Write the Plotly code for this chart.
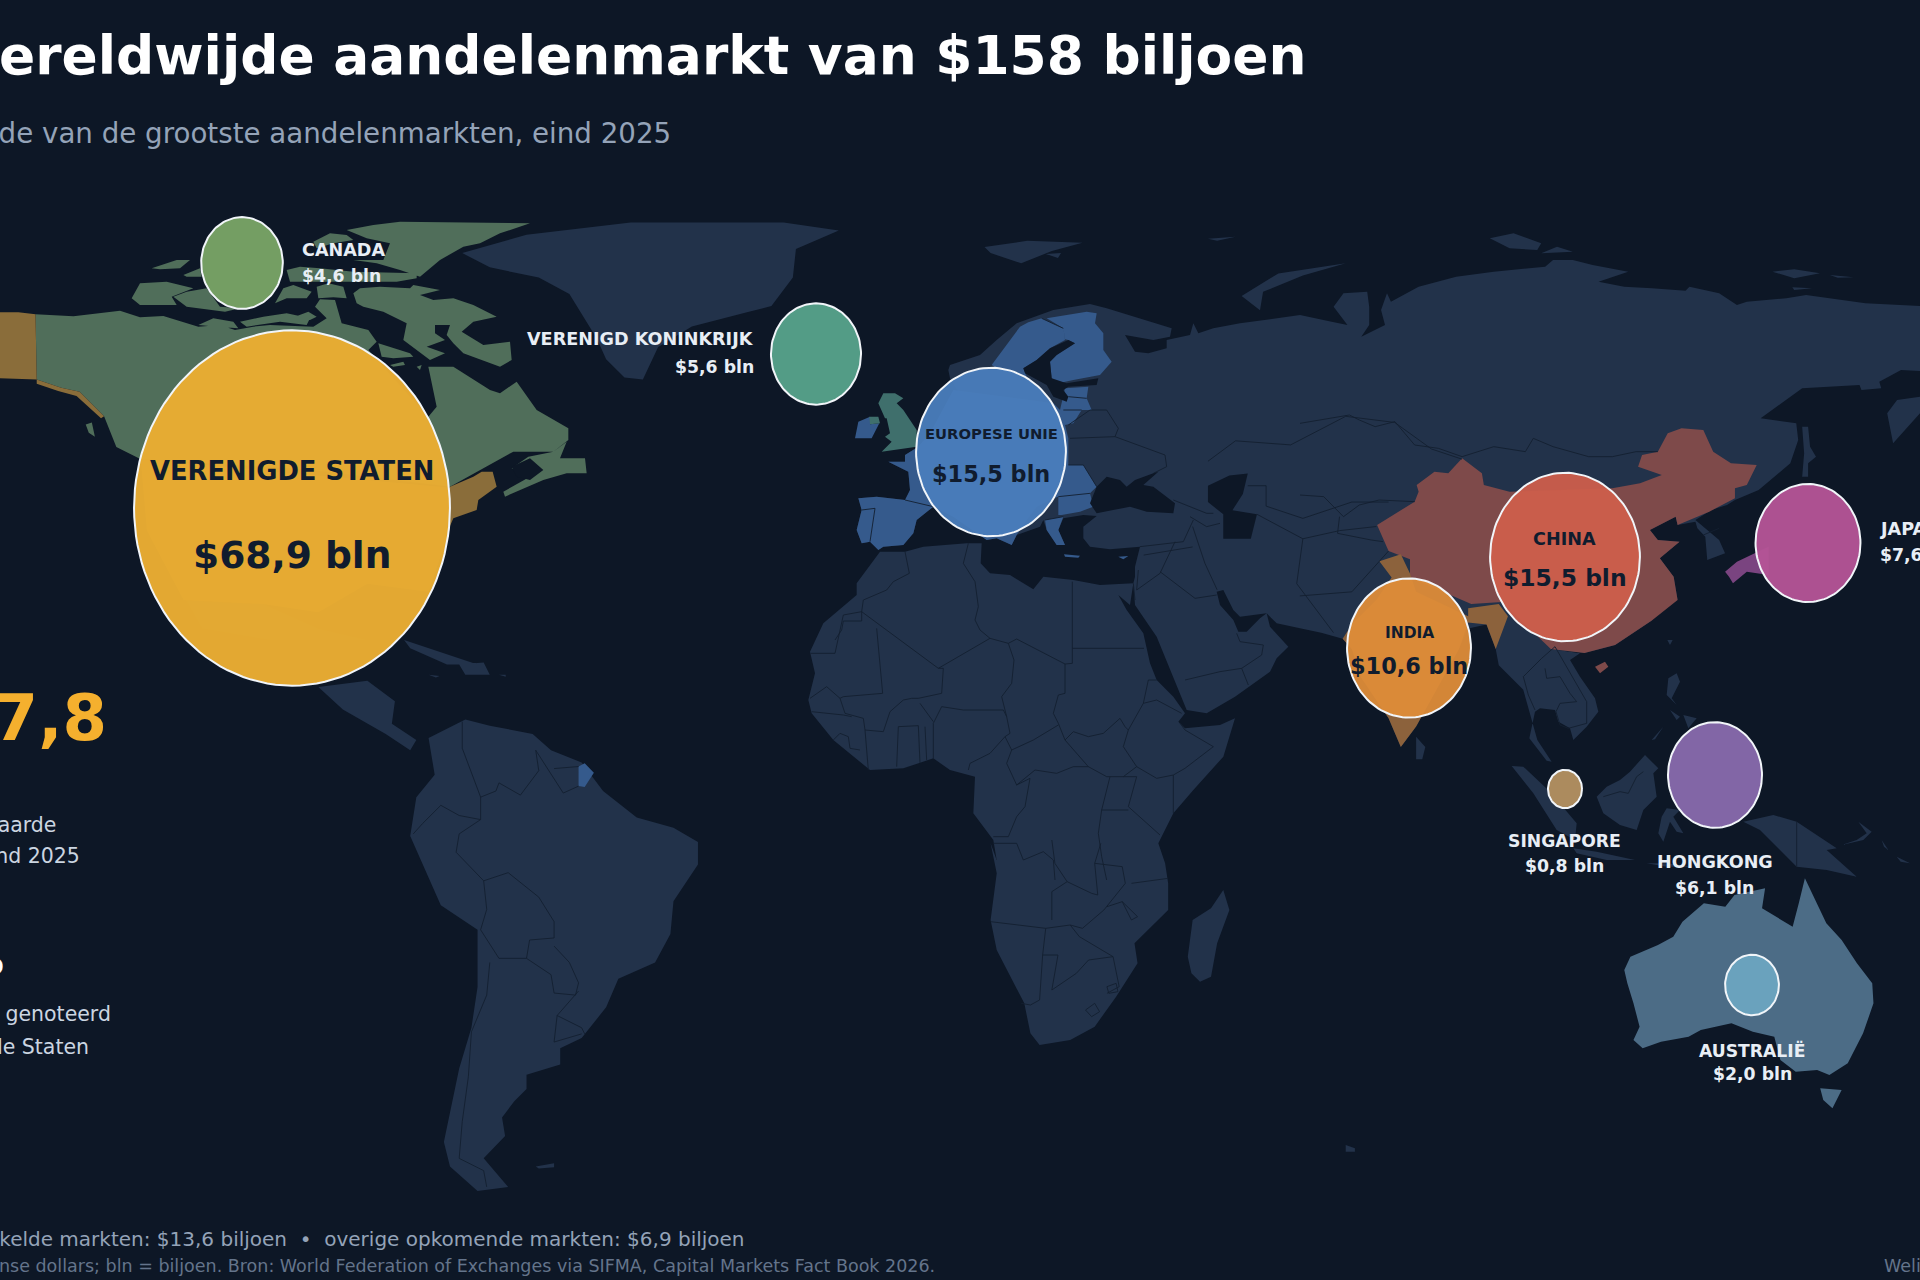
import numpy as np
import plotly.graph_objects as go

# ------------------------------------------------------------------ data
MARKETS = ["VERENIGDE STATEN", "EUROPESE UNIE", "CHINA", "INDIA", "JAPAN", "HONGKONG",
           "VERENIGD KONINKRIJK", "CANADA", "AUSTRALIË", "SINGAPORE"]
VALUES = [68.9, 15.5, 15.5, 10.6, 7.6, 6.1, 5.6, 4.6, 2.0, 0.8]
COLORS = ["rgba(232,172,50,0.975)", "rgba(74,125,188,0.95)", "rgba(206,94,75,0.95)",
          "rgba(222,140,56,0.95)", "rgba(180,84,150,0.96)", "rgba(134,105,170,0.97)",
          "rgba(86,162,138,0.96)", "rgba(122,165,102,0.95)", "rgba(108,165,192,0.95)",
          "rgba(172,139,94,1)"]
CENTER_X = [292, 991, 1565, 1409, 1808, 1715, 816, 242, 1752, 1565]
CENTER_Y = [508, 452, 557, 648, 543, 775, 354, 263, 985, 789]

BG = "#0D1726"
LAND = "#22324A"
BORDER = "#131F30"
K = 1920 / 1568
RX_PER_SQRT = 19.03
RY_PER_SQRT = 21.4


def crop(x0, y0, w, h, W, H):
    return lambda pts: [(x0 + a * w / W, y0 + b * h / H) for a, b in pts]


Z1 = crop(0, 0, 960, 640, 1568, 1568)
Z2 = crop(960, 200, 960, 640, 1568, 1568)
Z3 = crop(0, 640, 960, 640, 1568, 1568)
Z4 = crop(960, 840, 960, 440, 1568, 1320)
ZR = crop(1300, 200, 620, 400, 1568, 1200)
ZS = crop(1480, 640, 440, 300, 1320, 900)
ZE = crop(820, 290, 420, 300, 1260, 900)
ZA = crop(790, 540, 510, 340, 1530, 1020)
ZC = crop(120, 210, 480, 320, 1440, 960)

# ------------------------------------------------------------------ map outlines
EURASIA = (
    ZE([(385, 240), (390, 265), (430, 330), (330, 430), (295, 470), (255, 495), (255, 515), (205, 515), (265, 545),
        (270, 600), (255, 630), (170, 620), (115, 625), (125, 660), (110, 720), (125, 760), (150, 755), (175, 780),
        (190, 770), (250, 765), (280, 730), (290, 690), (340, 650), (400, 680), (500, 750), (530, 745), (575, 765),
        (590, 735), (660, 710), (670, 690), (680, 720), (710, 765), (735, 765), (715, 720), (730, 685), (790, 675),
        (830, 678), (790, 710), (790, 745), (810, 770), (870, 778), (960, 770), (945, 830), (945, 860)])
    + ZA([(1030, 130), (1035, 195), (1100, 290), (1120, 340), (1190, 510), (1250, 520), (1335, 470), (1440, 395),
          (1460, 355), (1495, 320), (1440, 260), (1430, 220), (1410, 235), (1370, 275), (1345, 275), (1330, 240),
          (1290, 195), (1280, 155), (1300, 150), (1330, 210), (1350, 230), (1430, 220), (1460, 250), (1530, 265)])
    + Z2([(590, 1060), (625, 1075), (640, 1100), (655, 1170), (700, 1270), (720, 1340), (745, 1290), (815, 1100),
          (830, 1050), (860, 1040), (875, 1100), (880, 1140), (920, 1200)])
    + ZS([(172, 300), (215, 365), (200, 362), (160, 310), (148, 295), (165, 215), (180, 205), (225, 210), (235, 245),
          (270, 265), (280, 300), (320, 260), (355, 215), (345, 175), (300, 110), (270, 60), (300, 40)])
    + Z2([(965, 1100), (1020, 1110), (1070, 1090), (1130, 1030), (1160, 960)])
    + ZR([(955, 1200), (945, 1130), (910, 1075), (960, 1025), (905, 1020), (885, 990), (950, 950), (955, 975),
          (1000, 965), (1005, 985), (1025, 1010), (1030, 1080), (1075, 1060), (1060, 1020), (1000, 960), (1040, 930),
          (1080, 915), (1100, 900), (1160, 870), (1240, 790), (1260, 720), (1255, 670), (1165, 655), (1270, 565),
          (1415, 555), (1420, 570), (1470, 565), (1465, 545), (1520, 510), (1600, 515), (1600, 320), (1430, 310),
          (1280, 285), (1230, 295), (1130, 305), (1105, 315), (1060, 280), (985, 260), (975, 272), (890, 265),
          (820, 260), (755, 245), (830, 215), (740, 195), (690, 180), (640, 180), (620, 200), (490, 215), (395, 230),
          (300, 260), (230, 305), (220, 280), (205, 330), (215, 375), (155, 410), (175, 375), (175, 320), (170, 275),
          (110, 280), (85, 320), (120, 375), (80, 365), (0, 345)])
    + ZE([(1260, 100), (1180, 115), (1135, 130), (1120, 100), (1110, 135), (1040, 150), (1040, 175), (985, 190),
          (945, 185), (915, 135), (1000, 150), (1050, 140), (1055, 115), (960, 85), (860, 55), (810, 42), (700, 60),
          (590, 100), (530, 150), (480, 195), (390, 225)])
)
AFRICA = (
    ZA([(270, 35), (345, 35), (400, 20), (530, 10), (575, 10), (572, 70), (600, 100), (660, 105), (730, 148), (760, 110),
        (850, 120), (930, 135), (1030, 130), (1020, 195), (985, 165), (1010, 210), (1060, 280), (1080, 370), (1100, 420),
        (1150, 470), (1185, 520), (1165, 545), (1185, 565), (1290, 555), (1335, 535), (1300, 650), (1210, 750),
        (1150, 820), (1105, 910), (1120, 960)])
    + Z4([(335, 70), (340, 130), (340, 210), (285, 310), (290, 370), (255, 470), (220, 560), (180, 600), (130, 615),
          (115, 580), (105, 490), (60, 330), (50, 240), (60, 100), (50, 10)])
    + ZA([(620, 960), (610, 900), (550, 820), (555, 710), (480, 690), (430, 655), (340, 685), (240, 690), (130, 600),
          (65, 520), (55, 480), (75, 400), (60, 335), (100, 250), (200, 165), (200, 130)])
)
SOUTH_AMERICA = Z3([(700, 240), (760, 195), (800, 210), (870, 230), (900, 270), (950, 300), (985, 370), (1040, 435),
                    (1100, 460), (1140, 495), (1140, 550), (1100, 640), (1095, 720), (1070, 790), (1010, 830), (990, 900),
                    (950, 975), (915, 1000), (915, 1040), (860, 1065), (860, 1100), (840, 1130), (820, 1170), (825, 1215),
                    (790, 1270), (830, 1340), (780, 1350), (735, 1290), (725, 1230), (750, 1050), (770, 950), (780, 850),
                    (780, 710), (720, 650), (670, 480), (680, 385), (710, 330)])
GREENLAND = Z1([(755, 620), (860, 575), (1030, 545), (1280, 545), (1370, 565), (1300, 610), (1295, 680), (1260, 750),
                (1220, 765), (1130, 800), (1075, 850), (1050, 930), (1020, 925), (990, 880), (975, 830), (950, 770),
                (930, 720), (880, 680), (800, 655)])
OTHER_LAND = [
    GREENLAND, EURASIA, AFRICA, SOUTH_AMERICA,
    Z1([(240, 1300), (300, 1470), (430, 1480), (520, 1540), (600, 1568), (560, 1568), (440, 1568), (330, 1540)]),
    Z3([(520, 115), (600, 100), (645, 150), (640, 205), (680, 245), (670, 270), (630, 230), (560, 170), (480, 60)]),
    Z3([(660, 0), (720, 30), (780, 60), (730, 60), (670, 20)]),
    Z3([(750, 60), (790, 55), (800, 85), (760, 85)]),
    Z3([(700, 85), (718, 88), (712, 92)]),
    Z3([(815, 85), (826, 85), (826, 90)]),
    Z3([(875, 1290), (905, 1282), (905, 1292), (880, 1295)]),
    Z4([(430, 150), (440, 210), (420, 310), (410, 410), (392, 425), (378, 400), (372, 350), (380, 240), (410, 205)]),
    Z4([(630, 915), (645, 925), (645, 935), (630, 935)]),
    Z2([(745, 1315), (760, 1340), (755, 1370), (745, 1370)]),
    Z2([(40, 115), (110, 100), (200, 105), (150, 125), (100, 155), (50, 130)]),
    Z2([(140, 132), (165, 130), (160, 142)]),
    Z2([(405, 95), (450, 90), (420, 100)]),
    Z2([(460, 235), (520, 180), (630, 155), (560, 185), (495, 225), (490, 270)]),
    ZR([(480, 115), (540, 100), (610, 130), (600, 150), (530, 145)]),
    ZR([(610, 160), (650, 140), (690, 155)]),
    ZR([(1195, 215), (1250, 208), (1315, 220), (1250, 235)]),
    ZR([(1340, 225), (1400, 232), (1360, 233)]),
    ZR([(1245, 262), (1295, 265), (1250, 270)]),
    ZR([(1270, 680), (1285, 680), (1290, 740), (1305, 770), (1285, 790), (1285, 830), (1270, 830), (1275, 760)]),
    ZR([(1568, 590), (1510, 600), (1485, 640), (1500, 730), (1530, 690), (1568, 640)]),
    ZS([(565, 115), (590, 100), (600, 125), (575, 175), (590, 195), (560, 165)]),
    ZS([(562, 0), (578, 0), (570, 15)]),
    ZS([(570, 210), (600, 230), (590, 240)]),
    ZS([(610, 225), (650, 235), (625, 265)]),
    ZS([(515, 300), (550, 260), (525, 298)]),
    ZS([(350, 470), (380, 440), (420, 420), (450, 395), (495, 345), (535, 385), (520, 400), (530, 470), (490, 510),
        (470, 570), (420, 555), (370, 520)]),
    ZS([(95, 378), (130, 380), (210, 455), (290, 550), (285, 600), (230, 570), (160, 460)]),
    ZS([(280, 625), (350, 635), (465, 660), (380, 660), (290, 640)]),
    ZS([(500, 670), (560, 670), (640, 680), (560, 680)]),
    ZS([(560, 505), (600, 510), (580, 530), (610, 580), (590, 575), (570, 545), (550, 605), (535, 580), (545, 530)]),
    ZS([(790, 545), (880, 525), (950, 545), (1070, 625), (1040, 630), (1130, 710), (1040, 690), (950, 680), (900, 630),
        (840, 570)]),
    ZS([(1085, 615), (1150, 600), (1175, 575), (1135, 545), (1160, 580), (1130, 600)]),
    ZS([(1205, 600), (1225, 630), (1212, 620)]),
    ZS([(1250, 650), (1290, 670), (1262, 665)]),
]
CANADA_LAND = [
    Z1([(58, 770), (120, 775)])
    + ZC([(0, 302), (60, 322), (130, 318), (235, 350), (300, 345), (345, 360), (400, 350), (450, 345), (580, 350),
          (620, 325), (585, 290), (600, 268), (645, 270), (665, 340), (745, 360), (770, 395), (745, 420), (925, 620),
          (950, 590), (925, 470), (1000, 470), (1110, 540), (1140, 550), (1190, 515), (1250, 600), (1345, 655), (1345, 690),
          (1300, 725), (1180, 725), (1100, 770), (1060, 790), (990, 830)])
    + Z1([(500, 1150), (230, 1125), (190, 1095), (170, 1020), (130, 960), (100, 950), (60, 930)]),
    ZC([(1300, 725), (1340, 695), (1320, 745), (1395, 745), (1400, 790), (1340, 790), (1270, 810), (1155, 860),
        (1150, 845), (1230, 800), (1175, 775), (1225, 740)]),
    ZC([(35, 265), (60, 220), (140, 215), (220, 235), (155, 260), (170, 285), (90, 285), (60, 285)]),
    ZC([(95, 175), (170, 150), (210, 150), (180, 175), (120, 178)]),
    ZC([(190, 195), (240, 175), (245, 200), (200, 200)]),
    ZC([(160, 260), (200, 245), (260, 235), (300, 290), (360, 295), (315, 305), (200, 290)]),
    ZC([(235, 345), (280, 325), (340, 335), (355, 355), (290, 350)]),
    ZC([(360, 335), (430, 320), (500, 310), (570, 325), (560, 345), (480, 335), (380, 350)]),
    ZC([(525, 320), (565, 305), (590, 320), (570, 330)]),
    ZC([(490, 235), (520, 225), (575, 245), (560, 265), (500, 265), (465, 280)]),
    ZC([(590, 230), (625, 220), (670, 230), (680, 265), (640, 262), (595, 265)]),
    ZC([(680, 60), (760, 45), (840, 35), (1230, 40), (1140, 70), (1080, 100), (1030, 110), (960, 150), (900, 200),
        (840, 180), (770, 160), (700, 150), (790, 150), (810, 100), (740, 85)]),
    ZC([(580, 95), (630, 70), (680, 75), (700, 90), (640, 100), (590, 115)]),
    ZC([(500, 180), (540, 170), (600, 175), (700, 185), (890, 190), (890, 205), (830, 215), (620, 215), (510, 215)]),
    ZC([(700, 250), (720, 235), (780, 230), (870, 235), (880, 225), (960, 240), (900, 255), (940, 270), (1000, 265),
        (1060, 285), (1130, 320), (1060, 335), (1025, 365), (1090, 405), (1170, 395), (1175, 450), (1140, 470), (1030, 430),
        (1000, 400), (980, 375), (990, 345), (945, 345), (945, 370), (975, 390), (920, 410), (975, 430), (930, 450),
        (850, 390), (860, 340), (790, 305), (730, 290), (710, 280)]),
    ZC([(775, 400), (870, 430), (880, 440), (820, 445), (785, 440)]),
    ZC([(810, 465), (850, 455), (855, 465), (820, 470)]),
    ZC([(890, 470), (905, 465), (900, 480)]),
    Z1([(140, 1040), (150, 1035), (155, 1070), (145, 1060)]),
]
USA_LAND = [
    Z1([(-40, 765), (30, 765), (58, 770), (60, 930), (-40, 925)]),
    Z1([(60, 930), (100, 950), (130, 960), (170, 1020), (165, 1025), (125, 970), (95, 958), (60, 940)]),
    ZC([(990, 830), (1060, 800), (1085, 785), (1118, 785), (1130, 830), (1075, 870), (1070, 900), (1000, 925), (985, 960),
        (960, 900)]),
    Z1([(230, 1125), (735, 1195), (735, 1295), (700, 1450), (600, 1430), (520, 1500), (430, 1480), (300, 1470), (240, 1300)]),
]
EU_LAND = [
    ZE([(255, 495), (255, 515), (205, 515), (265, 545), (270, 600), (255, 630), (170, 620), (115, 625), (125, 660),
        (110, 720), (125, 760), (150, 755), (175, 780), (190, 770), (250, 765), (280, 730), (290, 690), (340, 650),
        (400, 680), (500, 750), (530, 745), (575, 765), (590, 735), (620, 690), (650, 650), (700, 625), (715, 620),
        (715, 675), (725, 675), (780, 665), (820, 650), (810, 610), (830, 590), (790, 525), (745, 525), (745, 445),
        (735, 405), (760, 400), (785, 360), (815, 360), (800, 325), (805, 290), (735, 295), (730, 320), (720, 360),
        (700, 340), (400, 300), (330, 430), (295, 470)]),
    ZE([(675, 690), (730, 680), (715, 720), (735, 765), (710, 765), (680, 720)]),
    ZE([(515, 225), (545, 185), (600, 110), (625, 97), (665, 85), (730, 115), (735, 150), (690, 175), (650, 210), (610, 235),
        (620, 260), (540, 240)]),
    ZE([(680, 85), (800, 65), (830, 70), (825, 100), (850, 130), (850, 180), (875, 215), (840, 255), (760, 270), (715, 280),
        (695, 265), (690, 215), (710, 195), (765, 160), (745, 150), (735, 148), (730, 115)]),
    ZE([(105, 445), (115, 395), (150, 380), (150, 403), (178, 400), (155, 445)]),
    ZE([(732, 793), (780, 797), (775, 803), (735, 800)]),
    ZE([(895, 800), (925, 798), (910, 808)]),
    Z3([(945, 310), (955, 302), (970, 325), (955, 360), (945, 358)]),
]
UK_LAND = [
    ZE([(175, 340), (190, 310), (225, 310), (250, 325), (230, 340), (250, 360), (290, 420), (290, 470), (185, 485),
        (215, 455), (195, 440), (210, 430), (200, 385), (195, 385)]),
    ZE([(148, 380), (175, 380), (180, 400), (150, 403)]),
]
CHINA_LAND = [
    ZR([(195, 975), (290, 905), (300, 875), (295, 855), (340, 815), (375, 820), (410, 775), (460, 820), (465, 855),
        (530, 875), (790, 865), (860, 850), (915, 825), (855, 800), (865, 765), (905, 755), (930, 700), (965, 685),
        (1020, 690), (1045, 755), (1090, 790), (1155, 795), (1130, 855), (1100, 865), (1100, 895), (1035, 935), (955, 975),
        (950, 950), (885, 990), (905, 1020), (960, 1025), (910, 1075), (945, 1130), (955, 1200)])
    + Z2([(1130, 1030), (1070, 1090), (1020, 1110), (965, 1100), (885, 985), (835, 990), (735, 925), (735, 880), (700, 860)]),
    ZS([(345, 80), (375, 65), (385, 80), (360, 100)]),
]
INDIA_LAND = [
    Z2([(685, 885), (720, 868), (735, 915), (745, 960), (830, 1020), (830, 1000), (880, 990), (895, 1020), (875, 1100),
        (860, 1040), (830, 1035), (815, 1100), (745, 1290), (720, 1340), (700, 1270), (655, 1170), (640, 1100), (625, 1075),
        (640, 1040), (680, 980), (705, 925)]),
]
JAPAN_LAND = [
    ZR([(1075, 1115), (1105, 1085), (1150, 1060), (1185, 1040), (1185, 1125), (1130, 1115), (1095, 1150), (1085, 1130)]),
]
AUSTRALIA_LAND = [
    Z4([(1380, 115), (1400, 190), (1415, 250), (1440, 300), (1465, 370), (1490, 430), (1492, 490), (1475, 580), (1450, 670),
        (1420, 705), (1400, 690), (1365, 695), (1340, 660), (1330, 590), (1295, 575), (1260, 550), (1210, 570), (1190, 590),
        (1145, 605), (1115, 625), (1100, 600), (1110, 560), (1100, 490), (1090, 430), (1085, 390), (1095, 350), (1140, 315),
        (1165, 290), (1180, 245), (1215, 190), (1250, 200), (1265, 165), (1315, 145), (1310, 205), (1360, 260), (1370, 190)]),
    Z4([(1405, 745), (1440, 750), (1425, 805), (1410, 780)]),
]
SEAS = [
    ZE([(745, 150), (765, 160), (710, 195), (690, 215), (695, 265), (740, 280), (835, 265), (830, 285), (745, 290), (730, 300),
        (745, 320), (740, 335), (700, 320), (680, 285), (615, 250), (610, 235), (650, 210), (690, 175)]),
    ZE([(810, 640), (830, 590), (860, 560), (900, 570), (920, 590), (945, 570), (1000, 550), (1015, 545), (970, 585),
        (1000, 590), (1065, 640), (1060, 670), (980, 665), (930, 650), (830, 670)]),
    Z2([(405, 700), (440, 675), (470, 670), (462, 720), (445, 760), (485, 770), (475, 830), (430, 830), (430, 770), (405, 740)]),
    ZC([(1175, 770), (1230, 745), (1270, 780), (1230, 810), (1190, 800)]),
]
BORDERS = [
    # Africa
    ZA([(345, 35), (358, 100), (310, 125), (290, 150), (220, 180), (215, 215)]),
    ZA([(215, 215), (160, 225), (135, 340), (62, 340)]),
    ZA([(215, 215), (215, 243), (160, 243), (155, 270), (135, 300)]),
    ZA([(215, 215), (445, 385), (600, 295)]),
    ZA([(535, 10), (520, 70), (555, 125), (565, 200), (555, 240), (570, 270), (600, 295)]),
    ZA([(847, 125), (847, 370)]),
    ZA([(600, 295), (655, 310), (680, 297), (825, 372), (847, 370)]),
    ZA([(847, 325), (1062, 325)]),
    ZA([(825, 372), (825, 460), (805, 465), (790, 520), (805, 550), (825, 600)]),
    ZA([(655, 310), (672, 360), (665, 430), (635, 470), (650, 530), (660, 580), (645, 590)]),
    ZA([(665, 630), (730, 600), (805, 555)]),
    ZA([(645, 590), (665, 630), (650, 670), (680, 735), (720, 715), (705, 800), (680, 830), (655, 890), (610, 890)]),
    ZA([(645, 590), (600, 640), (540, 670), (535, 690)]),
    ZA([(260, 265), (278, 460), (160, 470), (150, 475), (110, 440), (60, 475)]),
    ZA([(445, 385), (460, 385), (455, 460), (385, 475), (365, 475), (340, 480), (300, 515), (280, 575)]),
    ZA([(455, 500), (520, 510), (620, 510), (640, 510), (650, 530)]),
    ZA([(455, 500), (430, 550), (430, 655)]),
    ZA([(390, 490), (420, 530), (430, 545)]),
    ZA([(325, 560), (385, 557), (390, 670)]),
    ZA([(325, 560), (320, 680)]),
    ZA([(405, 560), (410, 660)]),
    ZA([(225, 570), (280, 575)]),
    ZA([(225, 570), (235, 690)]),
    ZA([(150, 475), (165, 520), (220, 535), (225, 570)]),
    ZA([(65, 515), (160, 525), (185, 530)]),
    ZA([(130, 600), (150, 580), (175, 590), (180, 625), (210, 630)]),
    ZA([(825, 600), (850, 575), (895, 590), (940, 580), (990, 535), (1005, 560), (1015, 570), (1060, 490), (1100, 480), (1175, 520)]),
    ZA([(825, 600), (895, 680), (950, 710), (1000, 710), (1040, 680), (1000, 620), (1015, 570)]),
    ZA([(680, 735), (735, 690), (800, 700), (850, 680), (895, 680)]),
    ZA([(1060, 490), (1075, 420), (1100, 420)]),
    ZA([(1170, 550), (1185, 570), (1270, 620), (1185, 685), (1150, 705), (1100, 715), (1040, 680)]),
    ZA([(1150, 705), (1150, 820)]),
    ZA([(1000, 710), (1040, 710), (1015, 800), (1110, 885)]),
    ZA([(960, 710), (935, 810), (1015, 810)]),
    ZA([(935, 810), (925, 880), (935, 950), (950, 1020)]),
    ZA([(610, 910), (680, 910), (700, 960), (760, 935), (790, 960), (795, 1020)]),
    Z4([(50, 245), (140, 265), (180, 255), (200, 265)]),
    Z4([(140, 265), (135, 345), (130, 480), (115, 495), (100, 490)]),
    Z4([(135, 345), (160, 345), (150, 450), (190, 400), (210, 360), (250, 350), (195, 290), (180, 255)]),
    Z4([(150, 155), (175, 125), (215, 160), (225, 165), (220, 70), (265, 80), (270, 130), (235, 210), (200, 265)]),
    Z4([(150, 0), (155, 70), (175, 125)]),
    Z4([(150, 155), (150, 240)]),
    Z4([(280, 130), (340, 115)]),
    Z4([(265, 185), (290, 230), (280, 240), (265, 185), (240, 200)]),
    Z4([(250, 350), (260, 440), (240, 460)]),
    Z4([(205, 510), (220, 490), (228, 515), (215, 530), (205, 510)]),
    Z4([(240, 440), (255, 430), (258, 455), (243, 460), (240, 440)]),
    Z4([(220, 70), (230, 10)]),
    # South America
    Z3([(675, 475), (690, 450), (720, 405), (750, 430), (785, 440)]),
    Z3([(785, 440), (785, 385), (755, 265), (755, 200)]),
    Z3([(785, 385), (810, 370), (815, 350), (850, 380), (880, 320), (875, 270)]),
    Z3([(875, 270), (905, 340), (920, 375), (945, 358)]),
    Z3([(905, 315), (945, 310)]),
    Z3([(785, 440), (750, 475), (745, 520), (790, 590), (795, 660), (785, 710)]),
    Z3([(790, 590), (830, 570), (880, 630), (905, 690), (905, 730), (865, 735), (860, 780), (815, 780), (785, 710)]),
    Z3([(800, 790), (795, 870), (770, 960), (765, 1070), (755, 1180), (750, 1270), (790, 1300), (795, 1340)]),
    Z3([(860, 780), (900, 820), (905, 865), (940, 870), (945, 840), (930, 790), (905, 750)]),
    Z3([(945, 860), (910, 920), (905, 985), (950, 965)]),
    Z3([(910, 920), (950, 950), (955, 965)]),
    # Europe and Asia
    ZE([(125, 660), (165, 655), (150, 755)]),
    ZE([(860, 360), (895, 415), (885, 440), (1035, 495), (1040, 530), (1000, 550)]),
    ZE([(745, 405), (810, 360), (860, 360)]),
    ZE([(885, 440), (750, 445)]),
    ZE([(745, 525), (790, 525), (830, 590)]),
    ZE([(1060, 630), (1160, 670), (1180, 670)]),
    ZE([(1110, 680), (1160, 710), (1200, 700)]),
    ZE([(960, 770), (1090, 755), (1120, 690)]),
    ZE([(745, 320), (800, 325)]),
    ZE([(730, 360), (785, 360)]),
    ZE([(665, 85), (730, 115)]),
    ZE([(715, 620), (810, 610)]),
    ZE([(675, 690), (730, 680)]),
    ZE([(255, 630), (340, 650)]),
    ZR([(0, 670), (125, 645), (150, 660), (190, 680), (240, 665), (290, 735), (350, 745), (410, 770)]),
    ZR([(410, 770), (490, 740), (570, 755), (590, 715), (640, 740), (730, 770), (790, 770), (850, 755), (905, 755)]),
    ZR([(0, 885), (60, 890), (110, 950), (150, 915), (200, 900), (290, 905)]),
    ZR([(100, 950), (95, 1000), (180, 1020), (210, 1025)]),
    ZR([(1020, 1005), (1060, 985)]),
    Z2([(405, 640), (450, 590), (540, 600), (630, 530), (710, 545), (770, 610), (820, 635)]),
    Z2([(470, 700), (500, 700), (500, 750), (560, 780), (640, 740), (700, 740)]),
    Z2([(485, 770), (560, 830), (620, 810), (680, 800)]),
    Z2([(560, 830), (550, 940), (610, 1060)]),
    Z2([(555, 970), (640, 960), (700, 860)]),
    Z2([(380, 800), (400, 890), (420, 955)]),
    Z2([(300, 870), (380, 850)]),
    ZA([(1040, 150), (1110, 100), (1155, 5)]),
    ZA([(1110, 95), (1215, 175), (1280, 165)]),
    ZA([(1185, 420), (1290, 395), (1355, 385), (1375, 435)]),
    ZA([(1355, 385), (1415, 345), (1420, 315), (1350, 305), (1340, 280)]),
    ZA([(1030, 130), (1035, 180)]),
    ZA([(1045, 90), (1040, 150)]),
    ZS([(130, 110), (185, 55), (225, 20)]),
    ZS([(130, 110), (145, 165), (165, 210)]),
    ZS([(195, 85), (200, 115), (240, 110), (270, 160), (290, 185), (240, 190), (228, 215)]),
    ZS([(228, 215), (240, 255), (265, 265), (320, 250), (320, 185), (270, 100), (225, 20)]),
    ZS([(370, 470), (420, 455), (445, 460), (470, 410), (490, 395)]),
    ZS([(950, 545), (950, 680)]),
]
COUNTRY_FILLS = [
    (CANADA_LAND, "#506E5A"),
    (USA_LAND, "#8A6D3A"),
    (EU_LAND, "#355A8C"),
    (UK_LAND, "#3F6F6C"),
    (CHINA_LAND, "#7E4A4A"),
    (INDIA_LAND, "#8C623C"),
    (JAPAN_LAND, "#7A4480"),
    (AUSTRALIA_LAND, "#4C6C86"),
]


def joined(polys, close=True):
    xs, ys = [], []
    for poly in polys:
        pts = list(poly) + ([poly[0]] if close else [])
        xs += [p[0] for p in pts] + [None]
        ys += [p[1] for p in pts] + [None]
    return xs, ys


fig = go.Figure()


def add_fill(polys, color, name, line=0.6):
    x, y = joined(polys)
    fig.add_trace(go.Scatter(x=x, y=y, mode="lines", fill="toself", fillcolor=color, name=name,
                             line=dict(color=BORDER if line else color, width=line), hoverinfo="skip"))


add_fill(OTHER_LAND, LAND, "Overig", line=0)
for polys, color in COUNTRY_FILLS:
    add_fill(polys, color, "Land", line=0)
bx, by = joined(BORDERS, close=False)
fig.add_trace(go.Scatter(x=bx, y=by, mode="lines", name="Grenzen", line=dict(color=BORDER, width=0.9), hoverinfo="skip"))
add_fill(SEAS, BG, "Zee", line=0)

# ------------------------------------------------------------------ bubbles sized from the values
theta = np.linspace(0, 2 * np.pi, 121)
for name, v, col, cx, cy in zip(MARKETS, VALUES, COLORS, CENTER_X, CENTER_Y):
    fig.add_trace(go.Scatter(
        x=cx + RX_PER_SQRT * np.sqrt(v) * np.cos(theta),
        y=cy + RY_PER_SQRT * np.sqrt(v) * np.sin(theta),
        mode="lines", fill="toself", fillcolor=col, name=name,
        line=dict(color="#F1F5F9", width=2), hoverinfo="text", text=f"{name}: ${v} bln"))


# ------------------------------------------------------------------ texts
def money(v):
    return "$" + f"{v:.1f}".replace(".", ",") + " bln"


WHITE = "#E8EEF5"
DARK = "#101C2E"
LABEL_SPECS = {
    "VERENIGDE STATEN": (238.5, "center", 385, 453, DARK, 25.8, 37.6),
    "EUROPESE UNIE": (809.5, "center", 354, 387, DARK, 14.8, 22.4),
    "CHINA": (1278, "center", 440, 472, DARK, 17.6, 23.4),
    "INDIA": (1151, "center", 517, 544, DARK, 15.5, 22.4),
    "JAPAN": (1534, "left", 432, 453, WHITE, 17.6, 17.3),
    "HONGKONG": (1400.5, "center", 704, 725, WHITE, 17.6, 17.3),
    "VERENIGD KONINKRIJK": (617, "right", 277, 300, WHITE, 17.6, 17.3),
    "CANADA": (245, "left", 204, 225, WHITE, 17.6, 17.3),
    "AUSTRALIË": (1431, "center", 858, 877, WHITE, 17.2, 17.3),
    "SINGAPORE": (1278, "center", 687, 707, WHITE, 17.2, 17.3),
}


def text(s, x, y, size, color, anchor="left", bold=False):
    fig.add_annotation(x=x * K, y=y * K, xref="x", yref="y", text=f"<b>{s}</b>" if bold else s, showarrow=False,
                       xanchor=anchor, yanchor="middle", align=anchor,
                       font=dict(family="DejaVu Sans", size=size, color=color))


for name, v in zip(MARKETS, VALUES):
    x, anchor, y1, y2, col, s1, s2 = LABEL_SPECS[name]
    text(name, x, y1, s1, col, anchor, True)
    text(money(v), x, y2, s2, col, anchor, True)

text("Wereldwijde aandelenmarkt van $158 biljoen", 1068, 45, 53.4, "#FFFFFF", "right", True)
text("Marktwaarde van de grootste aandelenmarkten, eind 2025", 550, 109, 27.7, "#94A3B8", "right")
text("$157,8", 89, 586, 64, "#F5B02E", "right", True)
text("totale marktwaarde", 47, 674, 20.5, "#CBD5E1", "right")
text("wereldwijd, eind 2025", 67, 699, 20.5, "#CBD5E1", "right")
text("43,7%", 5, 784, 40, "#FFFFFF", "right", True)
text("van de waarde genoteerd", 92, 828, 20.5, "#CBD5E1", "right")
text("in de Verenigde Staten", 74, 855, 20.5, "#CBD5E1", "right")
text("Overige ontwikkelde markten: $13,6 biljoen  •  overige opkomende markten: $6,9 biljoen", 610, 1012, 20, "#94A3B8", "right")
text("Bedragen in Amerikaanse dollars; bln = biljoen. Bron: World Federation of Exchanges via SIFMA, Capital Markets Fact Book 2026.",
     765, 1034, 17.5, "#64748B", "right")
text("Welingelichte Kringen", 1537, 1034, 17.5, "#64748B", "left")

fig.update_layout(
    width=1920, height=1280, margin=dict(l=0, r=0, t=0, b=0), showlegend=False,
    paper_bgcolor=BG, plot_bgcolor=BG,
    xaxis=dict(range=[0, 1920], visible=False, fixedrange=True),
    yaxis=dict(range=[1280, 0], visible=False, fixedrange=True),
)
fig.write_html("out.html", config={"displayModeBar": False},
               post_script="document.body.style.margin='0';document.body.style.overflow='hidden';document.body.style.background='%s';" % BG)
